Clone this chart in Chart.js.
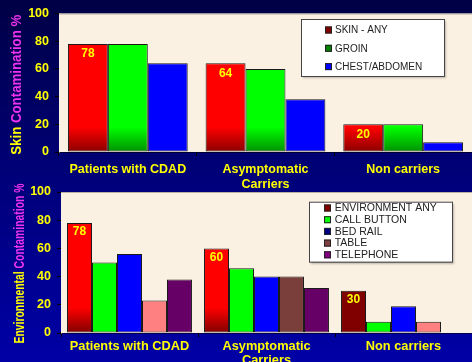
<!DOCTYPE html>
<html><head><meta charset="utf-8">
<script src="https://cdn.jsdelivr.net/npm/chart.js@4"></script>
<style>
html,body{margin:0;padding:0;width:472px;height:362px;overflow:hidden;}
body{background:linear-gradient(#000045,#00007a 50%,#0000a6);position:relative;}
canvas{position:absolute;left:0;}
#skin{top:0}
#env{top:175px}
</style></head><body>
<canvas id="skin" width="472" height="195"></canvas>
<canvas id="env" width="472" height="187"></canvas>
<script>
// Groups along the x axis
const groups = ['Patients with CDAD', ['Asymptomatic', 'Carriers'], 'Non carriers'];
const yTicks = [0, 20, 40, 60, 80, 100];

// Skin contamination (%)
const skinSeries = ['SKIN - ANY', 'GROIN', 'CHEST/ABDOMEN'];
const skinAny = [78, 64, 20];
const groin = [78, 60, 20];
const chestAbdomen = [64, 38, 7];

// Environmental contamination (%)
const envSeries = ['ENVIRONMENT ANY', 'CALL BUTTON', 'BED RAIL', 'TABLE', 'TELEPHONE'];
const envAny = [78, 60, 30];
const callButton = [50, 46, 8];
const bedRail = [56, 40, 19];
const table = [23, 40, 8];
const telephone = [38, 32, 0];

const YELLOW = '#ffff00';
const MAGENTA = '#ee33ee';
const FONT = '"Liberation Sans", Arial, sans-serif';

// fill that darkens toward the baseline
function shaded(base, dark) {
  return ctx => {
    const a = ctx.chart.chartArea;
    if (!a) return base;
    const g = ctx.chart.ctx.createLinearGradient(0, a.bottom, 0, a.bottom - (a.bottom - a.top) * 0.18);
    g.addColorStop(0, dark);
    g.addColorStop(1, base);
    return g;
  };
}
function perBar(list) {
  return ctx => {
    const c = list[ctx.dataIndex];
    return typeof c === 'function' ? c(ctx) : c;
  };
}

const decor = {
  id: 'decor',
  beforeDatasetsDraw(chart, args, o) {
    const {ctx, chartArea: a} = chart;
    ctx.save();
    ctx.fillStyle = '#fbf1e2';
    ctx.fillRect(a.left, a.top, a.right - a.left, a.bottom - a.top);
    ctx.strokeStyle = '#b8b0a4';
    ctx.lineWidth = 1;
    ctx.beginPath();
    ctx.moveTo(a.left, a.top + 0.5);
    ctx.lineTo(a.right, a.top + 0.5);
    ctx.stroke();
    ctx.restore();
  },
  afterDatasetsDraw(chart, args, o) {
    const {ctx, chartArea: a} = chart;
    ctx.save();
    // value labels on the first series
    const meta = chart.getDatasetMeta(0);
    const vals = chart.data.datasets[0].data;
    ctx.font = 'bold 12px ' + FONT;
    ctx.fillStyle = YELLOW;
    ctx.textAlign = 'center';
    ctx.textBaseline = 'middle';
    meta.data.forEach((el, i) => {
      ctx.fillText(String(vals[i]), el.x, el.y + o.labelOffset);
    });

    // legend
    const L = o.legend;
    ctx.shadowColor = 'rgba(0,0,0,0.25)';
    ctx.shadowOffsetX = 2; ctx.shadowOffsetY = 2; ctx.shadowBlur = 2;
    ctx.fillStyle = '#ffffff';
    ctx.fillRect(L.x, L.y, L.w, L.h);
    ctx.shadowColor = 'transparent';
    ctx.strokeStyle = '#444';
    ctx.lineWidth = 1;
    ctx.strokeRect(L.x + 0.5, L.y + 0.5, L.w, L.h);
    ctx.font = L.size + 'px ' + FONT;
    ctx.textAlign = 'left';
    ctx.textBaseline = 'middle';
    L.labels.forEach((t, i) => {
      const cy = L.row0 + i * L.step;
      ctx.fillStyle = L.colors[i];
      ctx.fillRect(L.mx, cy - 3.5, 7, 7);
      ctx.strokeStyle = '#222';
      ctx.strokeRect(L.mx + 0.5, cy - 3.5 + 0.5, 6, 6);
      ctx.fillStyle = '#222';
      ctx.fillText(t, L.tx, cy + 0.5);
    });
    ctx.restore();
  },
  afterDraw(chart, args, o) {
    // two-colour vertical axis title
    const {ctx, chartArea: a} = chart;
    const T = o.title;
    ctx.save();
    ctx.font = 'bold 14px ' + FONT;
    const w1 = ctx.measureText(T.parts[0] + ' ').width;
    const w2 = ctx.measureText(T.parts[1]).width;
    const k = T.length / (w1 + w2);
    ctx.translate(T.x, (a.top + a.bottom) / 2 + T.dy);
    ctx.rotate(-Math.PI / 2);
    ctx.scale(k, 1);
    ctx.textBaseline = 'middle';
    ctx.textAlign = 'left';
    const x0 = -(w1 + w2) / 2;
    ctx.fillStyle = YELLOW;
    ctx.fillText(T.parts[0], x0, 0);
    ctx.fillStyle = MAGENTA;
    ctx.fillText(T.parts[1], x0 + w1, 0);
    ctx.restore();
  }
};

function makeChart(id, datasets, cfg) {
  return new Chart(document.getElementById(id), {
    type: 'bar',
    data: {labels: groups, datasets},
    options: {
      responsive: false,
      animation: false,
      devicePixelRatio: 1,
      layout: {padding: {top: cfg.top, right: 0, left: 0, bottom: 0}},
      datasets: {bar: {categoryPercentage: cfg.cat, barPercentage: 1, borderWidth: 1,
                       borderColor: '#1a1a1a', borderSkipped: false}},
      plugins: {
        legend: {display: false},
        tooltip: {enabled: false},
        decor: {labelOffset: cfg.labelOffset, legend: cfg.legend, title: cfg.title}
      },
      scales: {
        x: {
          afterFit: s => { s.height = cfg.xh; },
          grid: {drawOnChartArea: false, tickLength: 4, color: '#000', offset: true},
          border: {color: '#000', width: 1.5},
          ticks: {color: YELLOW, font: {family: FONT, size: cfg.xfont, weight: 'bold', lineHeight: cfg.xlh},
                  padding: cfg.xpad, maxRotation: 0, autoSkip: false}
        },
        y: {
          min: 0, max: 100,
          afterFit: s => { s.width = cfg.left; },
          afterBuildTicks: s => { s.ticks = yTicks.map(v => ({value: v})); },
          grid: {drawOnChartArea: false, tickLength: 4, color: '#000'},
          border: {color: '#666', width: 1},
          ticks: {color: YELLOW, font: {family: FONT, size: 12.5, weight: 'bold'}, padding: 6}
        }
      }
    },
    plugins: [decor]
  });
}

makeChart('skin', [
  {label: skinSeries[0], data: skinAny, backgroundColor: shaded('#ff0000', '#8a0000')},
  {label: skinSeries[1], data: groin, backgroundColor: shaded('#00ff00', '#009000')},
  {label: skinSeries[2], data: chestAbdomen, backgroundColor: '#0000ff'}
], {
  top: 10, left: 59, xh: 43, xfont: 12.5, xlh: 1.2, xpad: 6, cat: 0.87, labelOffset: 10,
  legend: {x: 301, y: 19, w: 143, h: 57, row0: 30, step: 18.3, mx: 325, tx: 335, size: 10,
           labels: skinSeries, colors: ['#800000', '#008000', '#0000ff']},
  title: {x: 17.5, dy: 2, length: 140, parts: ['Skin', 'Contamination %']}
});

const red = shaded('#ff0000', '#800000');
makeChart('env', [
  {label: envSeries[0], data: envAny, backgroundColor: perBar([red, red, '#800000'])},
  {label: envSeries[1], data: callButton, backgroundColor: '#00ff00'},
  {label: envSeries[2], data: bedRail, backgroundColor: '#0000ff'},
  {label: envSeries[3], data: table, backgroundColor: perBar(['#ff8080', '#7b3f3b', '#ff8080'])},
  {label: envSeries[4], data: telephone, backgroundColor: '#660066'}
], {
  top: 17, left: 61, xh: 29, xfont: 12.8, xlh: 1.08, xpad: 3, cat: 0.912, labelOffset: 9,
  legend: {x: 309, y: 26.7, w: 143, h: 60, row0: 33, step: 11.7, mx: 324, tx: 334.7, size: 10.5,
           labels: envSeries, colors: ['#800000', '#00ff00', '#000080', '#7f4040', '#800080']},
  title: {x: 20, dy: 1, length: 160, parts: ['Environmental', 'Contamination %']}
});
</script>
</body></html>
